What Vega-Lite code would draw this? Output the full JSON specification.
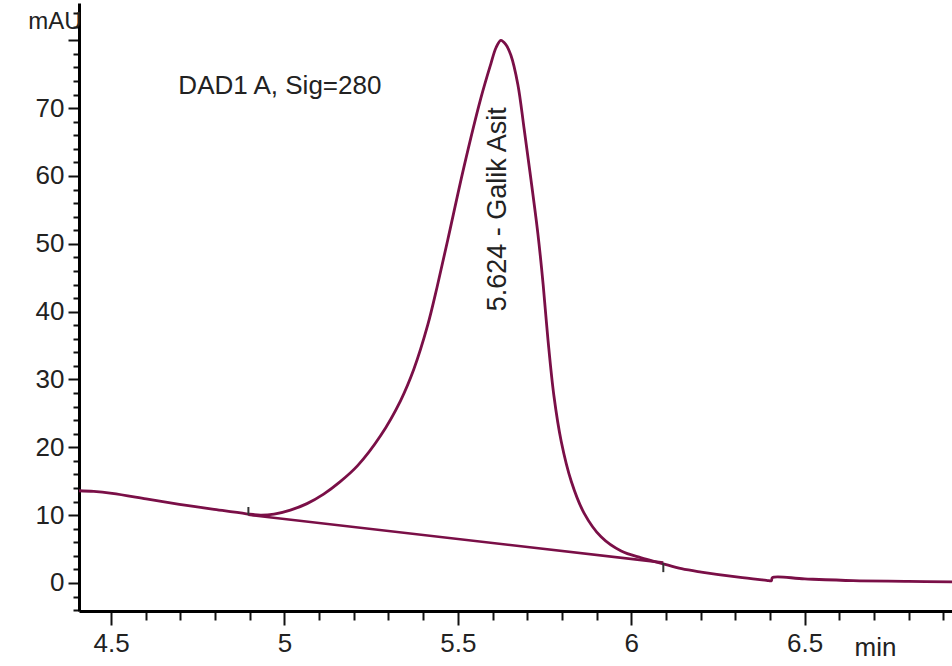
{
  "$schema": "https://vega.github.io/schema/vega-lite/v6.json",
  "width": 873,
  "height": 608,
  "autosize": {"type": "none"},
  "padding": {"left": 79, "top": 3, "right": 0, "bottom": 55},
  "background": "white",
  "config": {"view": {"stroke": null}, "font": "Liberation Sans"},
  "datasets": {
    "trace": [
      {"t": 4.4075, "mAU": 13.6},
      {"t": 4.45, "mAU": 13.5},
      {"t": 4.503, "mAU": 13.2},
      {"t": 4.601, "mAU": 12.4},
      {"t": 4.697, "mAU": 11.6},
      {"t": 4.792, "mAU": 10.9},
      {"t": 4.89, "mAU": 10.2},
      {"t": 4.931, "mAU": 10.0},
      {"t": 4.97, "mAU": 10.15},
      {"t": 5.017, "mAU": 10.75},
      {"t": 5.065, "mAU": 11.7},
      {"t": 5.113, "mAU": 13.1},
      {"t": 5.16, "mAU": 14.9},
      {"t": 5.211, "mAU": 17.3},
      {"t": 5.277, "mAU": 21.7},
      {"t": 5.335, "mAU": 26.9},
      {"t": 5.373, "mAU": 31.5},
      {"t": 5.413, "mAU": 38.0},
      {"t": 5.44, "mAU": 43.6},
      {"t": 5.471, "mAU": 50.6},
      {"t": 5.517, "mAU": 61.2},
      {"t": 5.566, "mAU": 71.4},
      {"t": 5.595, "mAU": 76.5},
      {"t": 5.61, "mAU": 78.9},
      {"t": 5.624, "mAU": 80.0},
      {"t": 5.638, "mAU": 79.4},
      {"t": 5.653, "mAU": 77.8},
      {"t": 5.673, "mAU": 73.5},
      {"t": 5.691, "mAU": 67.0},
      {"t": 5.711, "mAU": 59.4},
      {"t": 5.731, "mAU": 51.4},
      {"t": 5.746, "mAU": 44.0},
      {"t": 5.76, "mAU": 35.8},
      {"t": 5.777, "mAU": 27.6},
      {"t": 5.798, "mAU": 20.9},
      {"t": 5.827, "mAU": 15.0},
      {"t": 5.864, "mAU": 10.3},
      {"t": 5.913, "mAU": 6.8},
      {"t": 5.971, "mAU": 4.7},
      {"t": 6.029, "mAU": 3.7},
      {"t": 6.087, "mAU": 2.9},
      {"t": 6.145, "mAU": 2.1},
      {"t": 6.202, "mAU": 1.6},
      {"t": 6.309, "mAU": 0.85},
      {"t": 6.39, "mAU": 0.4},
      {"t": 6.404, "mAU": 0.32},
      {"t": 6.407, "mAU": 0.8},
      {"t": 6.5, "mAU": 0.6},
      {"t": 6.64, "mAU": 0.35},
      {"t": 6.8, "mAU": 0.25},
      {"t": 6.925, "mAU": 0.15}
    ],
    "baseline": [
      {"t": 4.896, "mAU": 10.05},
      {"t": 6.0925, "mAU": 3.0}
    ],
    "markers": [
      {"t": 4.896, "lo": 10.0, "hi": 11.2},
      {"t": 6.0925, "lo": 1.6, "hi": 2.95}
    ],
    "info": [{"t": 4.694, "mAU": 73.2, "label": "DAD1 A, Sig=280"}],
    "peaks": [{"t": 5.6156, "mAU": 55.1, "label": "5.624 -  Galik Asit"}]
  },
  "layer": [
    {
      "data": {"name": "trace"},
      "mark": {"type": "line", "color": "#7a0f47", "strokeWidth": 2.8, "interpolate": "catmull-rom", "clip": true},
      "encoding": {
        "x": {
          "field": "t",
          "type": "quantitative",
          "scale": {"domain": [4.4075, 6.925], "nice": false, "zero": false},
          "axis": {
            "title": "min",
            "titleX": 796,
            "titleY": 44,
            "titleAlign": "center",
            "titleBaseline": "alphabetic",
            "titleFontSize": 26,
            "titleFontWeight": "normal",
            "titleColor": "#222222",
            "tickCount": 100,
            "values": [4.5, 4.6, 4.7, 4.8, 4.9, 5, 5.1, 5.2, 5.3, 5.4, 5.5, 5.6, 5.7, 5.8, 5.9, 6, 6.1, 6.2, 6.3, 6.4, 6.5, 6.6, 6.7, 6.8, 6.9],
            "labelExpr": "abs(datum.value*2-round(datum.value*2))<0.001 ? format(datum.value, '~g') : ''",
            "labelFontSize": 26,
            "labelColor": "#222222",
            "labelPadding": 5,
            "labelOverlap": false,
            "labelFlush": false,
            "tickSize": {"condition": {"test": "abs(datum.value*2-round(datum.value*2))<0.001", "value": 14}, "value": 9},
            "tickColor": "#111111",
            "tickWidth": 2,
            "domainColor": "#000000",
            "domainWidth": 3,
            "grid": false
          }
        },
        "y": {
          "field": "mAU",
          "type": "quantitative",
          "scale": {"domain": [-4.13, 85.5], "nice": false, "zero": false},
          "axis": {
            "title": "mAU",
            "titleAngle": 0,
            "titleAlign": "right",
            "titleBaseline": "alphabetic",
            "titleX": 2,
            "titleY": 25,
            "titleFontSize": 24,
            "titleFontWeight": "normal",
            "titleColor": "#222222",
            "tickCount": 100,
            "values": [-4, -2, 0, 2, 4, 6, 8, 10, 12, 14, 16, 18, 20, 22, 24, 26, 28, 30, 32, 34, 36, 38, 40, 42, 44, 46, 48, 50, 52, 54, 56, 58, 60, 62, 64, 66, 68, 70, 72, 74, 76, 78, 80, 82, 84],
            "labelExpr": "(datum.value % 10 == 0 && datum.value >= 0 && datum.value <= 70) ? format(datum.value, 'd') : ''",
            "labelFontSize": 26,
            "labelColor": "#222222",
            "labelPadding": 4,
            "labelOverlap": false,
            "labelFlush": false,
            "tickSize": {"condition": {"test": "datum.value % 10 == 0", "value": 11}, "value": 6},
            "tickColor": "#111111",
            "tickWidth": 2,
            "domainColor": "#000000",
            "domainWidth": 3,
            "grid": false
          }
        }
      }
    },
    {
      "data": {"name": "baseline"},
      "mark": {"type": "line", "color": "#7a0f47", "strokeWidth": 2.6},
      "encoding": {
        "x": {"field": "t", "type": "quantitative"},
        "y": {"field": "mAU", "type": "quantitative"}
      }
    },
    {
      "data": {"name": "markers"},
      "mark": {"type": "rule", "color": "#333333", "strokeWidth": 2},
      "encoding": {
        "x": {"field": "t", "type": "quantitative"},
        "y": {"field": "lo", "type": "quantitative"},
        "y2": {"field": "hi"}
      }
    },
    {
      "data": {"name": "info"},
      "mark": {"type": "text", "align": "left", "baseline": "middle", "fontSize": 26, "color": "#222222"},
      "encoding": {
        "x": {"field": "t", "type": "quantitative"},
        "y": {"field": "mAU", "type": "quantitative"},
        "text": {"field": "label"}
      }
    },
    {
      "data": {"name": "peaks"},
      "mark": {"type": "text", "align": "center", "baseline": "middle", "angle": 270, "fontSize": 27, "color": "#222222"},
      "encoding": {
        "x": {"field": "t", "type": "quantitative"},
        "y": {"field": "mAU", "type": "quantitative"},
        "text": {"field": "label"}
      }
    }
  ]
}
